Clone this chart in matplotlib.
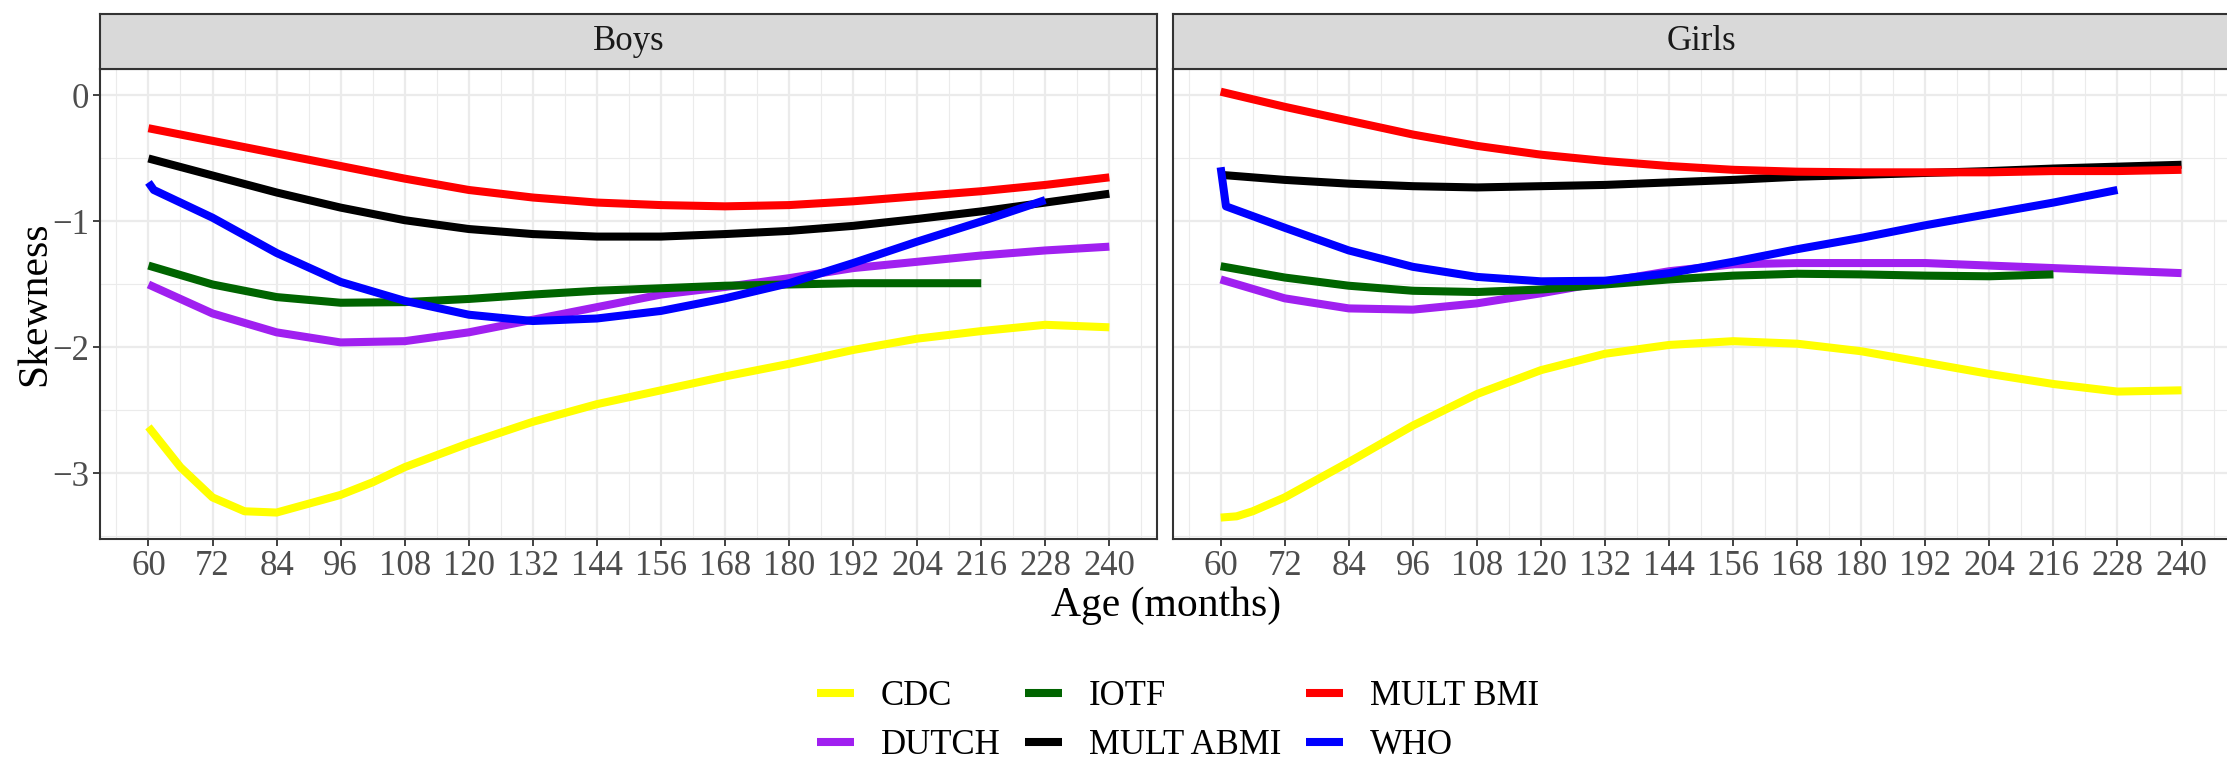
import matplotlib
matplotlib.use("Agg")
import matplotlib.pyplot as plt
from matplotlib.lines import Line2D

plt.rcParams["font.family"] = ["Liberation Serif", "DejaVu Serif"]

references = ["CDC", "DUTCH", "IOTF", "MULT ABMI", "MULT BMI", "WHO"]
colors = ["#FFFF00", "#A020F0", "#006400", "#000000", "#FF0000", "#0000FF"]

ages = [60, 72, 84, 96, 108, 120, 132, 144, 156, 168, 180, 192, 204, 216, 228, 240]
ages_iotf = ages[:14]
ages_who = [60, 61] + ages[1:15]
y_ticks = [-3, -2, -1, 0]
y_labels = ["\u22123", "\u22122", "\u22121", "0"]

# Boys
boys_cdc_ages = [60, 66, 72, 78, 84, 90, 96, 102, 108, 120, 132, 144, 156,
                 168, 180, 192, 204, 216, 228, 240]
boys_cdc = [-2.63, -2.95, -3.19, -3.30, -3.31, -3.24, -3.17, -3.07, -2.95, -2.76,
            -2.59, -2.45, -2.34, -2.23, -2.13, -2.02, -1.93, -1.87, -1.82, -1.84]
boys_dutch = [-1.50, -1.73, -1.88, -1.96, -1.95, -1.88, -1.78, -1.68, -1.58, -1.52,
              -1.45, -1.37, -1.32, -1.27, -1.23, -1.20]
boys_iotf = [-1.35, -1.50, -1.60, -1.645, -1.64, -1.615, -1.58, -1.55, -1.53, -1.51,
             -1.50, -1.49, -1.49, -1.49]
boys_abmi = [-0.50, -0.635, -0.77, -0.89, -0.99, -1.06, -1.10, -1.12, -1.12, -1.10,
             -1.075, -1.035, -0.98, -0.92, -0.85, -0.78]
boys_bmi = [-0.26, -0.36, -0.46, -0.56, -0.66, -0.75, -0.81, -0.85, -0.87, -0.88,
            -0.87, -0.84, -0.80, -0.76, -0.71, -0.65]
boys_who = [-0.69, -0.75, -0.97, -1.25, -1.48, -1.63, -1.74, -1.79, -1.77, -1.71,
            -1.61, -1.49, -1.33, -1.16, -1.00, -0.83]

# Girls
girls_cdc_ages = [60, 63, 66, 72, 84, 96, 108, 120, 132, 144, 156, 168, 180, 192,
                  204, 216, 228, 240]
girls_cdc = [-3.35, -3.34, -3.30, -3.19, -2.91, -2.62, -2.37, -2.18, -2.05, -1.98,
             -1.95, -1.97, -2.03, -2.12, -2.21, -2.29, -2.35, -2.34]
girls_dutch = [-1.46, -1.61, -1.69, -1.70, -1.65, -1.57, -1.48, -1.395, -1.34, -1.33,
               -1.33, -1.33, -1.35, -1.37, -1.39, -1.41]
girls_iotf = [-1.355, -1.445, -1.51, -1.55, -1.56, -1.54, -1.50, -1.46, -1.43, -1.415,
              -1.42, -1.43, -1.435, -1.42]
girls_abmi = [-0.63, -0.67, -0.70, -0.72, -0.73, -0.72, -0.71, -0.69, -0.67, -0.645,
              -0.63, -0.615, -0.60, -0.58, -0.565, -0.55]
girls_bmi = [0.03, -0.09, -0.20, -0.31, -0.40, -0.47, -0.52, -0.56, -0.59, -0.605,
             -0.61, -0.61, -0.61, -0.60, -0.60, -0.59]
girls_who = [-0.57, -0.88, -1.05, -1.23, -1.36, -1.44, -1.475, -1.47, -1.41, -1.32,
             -1.22, -1.13, -1.03, -0.94, -0.85, -0.75]

panels = {
    "Boys": [(boys_cdc_ages, boys_cdc), (ages, boys_dutch), (ages_iotf, boys_iotf),
             (ages, boys_abmi), (ages, boys_bmi), (ages_who, boys_who)],
    "Girls": [(girls_cdc_ages, girls_cdc), (ages, girls_dutch), (ages_iotf, girls_iotf),
              (ages, girls_abmi), (ages, girls_bmi), (ages_who, girls_who)],
}

W, H = 2227, 763
fig = plt.figure(figsize=(W / 100, H / 100), dpi=100)

border = "#333333"
lw = 5.8
panel_w = 1057 / W
panel_y0 = 1 - 539 / H
panel_h = 470 / H
strip_y0 = 1 - 69 / H
strip_h = 55 / H
lefts = [100.4 / W, 1172.6 / W]

for i, (name, series) in enumerate(panels.items()):
    ax = fig.add_axes([lefts[i], panel_y0, panel_w, panel_h])
    for (x, y), c in zip(series, colors):
        ax.plot(x, y, color=c, lw=lw, solid_capstyle="butt", solid_joinstyle="round")
    ax.set_xlim(51, 249)
    ax.set_ylim(-3.52, 0.21)
    ax.set_xticks(ages)
    ax.set_xticks([a - 6 for a in ages] + [246], minor=True)
    ax.set_yticks(y_ticks)
    ax.set_yticks([-3.5, -2.5, -1.5, -0.5], minor=True)
    ax.grid(which="major", color="#EBEBEB", lw=1.6)
    ax.grid(which="minor", color="#EBEBEB", lw=0.8)
    ax.set_axisbelow(True)
    ax.tick_params(which="minor", length=0)
    ax.tick_params(which="major", length=5, width=1.3, color=border,
                   labelsize=25, labelcolor="#4D4D4D", pad=3)
    for s in ax.spines.values():
        s.set_color(border)
        s.set_linewidth(1.5)
    if i == 1:
        ax.set_yticklabels([])
        ax.tick_params(axis="y", length=0)
    else:
        ax.set_yticklabels(y_labels)

    sax = fig.add_axes([lefts[i], strip_y0, panel_w, strip_h])
    sax.set_facecolor("#D9D9D9")
    sax.set_xticks([])
    sax.set_yticks([])
    for s in sax.spines.values():
        s.set_color(border)
        s.set_linewidth(1.5)
    sax.text(0.5, 0.5, name, ha="center", va="center", fontsize=25,
             color="#1A1A1A", transform=sax.transAxes)

fig.text(35 / W, 1 - 304 / H, "Skewness", rotation=90, ha="center", va="center",
         fontsize=30)
fig.text(1166 / W, 1 - 606 / H, "Age (months)", ha="center", va="center",
         fontsize=30)

handles = [Line2D([], [], color=c, lw=lw, solid_capstyle="butt") for c in colors]
fig.legend(handles, references, loc="center", bbox_to_anchor=(1178 / W, 1 - 721 / H),
           ncol=3, frameon=False, fontsize=25, handlelength=1.07,
           handletextpad=0.78, columnspacing=0.7, labelspacing=0.45)

fig.savefig("out.png", dpi=100)
